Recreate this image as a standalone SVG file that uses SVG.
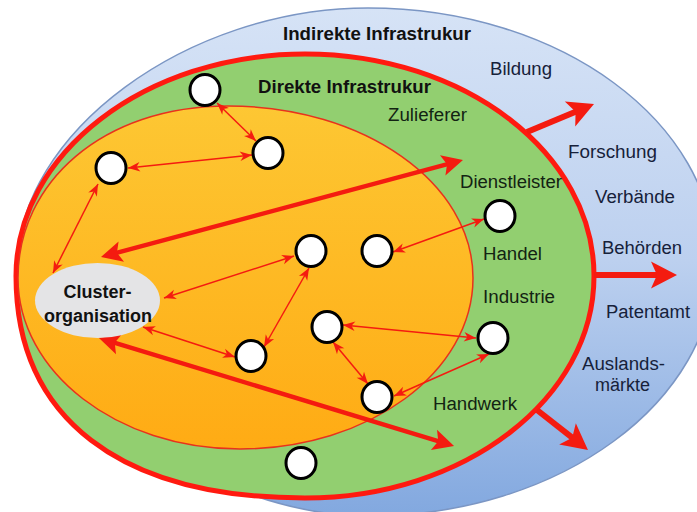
<svg xmlns="http://www.w3.org/2000/svg" width="697" height="512" viewBox="0 0 697 512">
<defs>
<linearGradient id="gBlue" x1="0" y1="0" x2="0" y2="1">
<stop offset="0" stop-color="#d6e3f6"/>
<stop offset="0.5" stop-color="#bcd0ef"/>
<stop offset="1" stop-color="#82a8df"/>
</linearGradient>
<linearGradient id="gOrange" x1="0" y1="0" x2="0" y2="1">
<stop offset="0" stop-color="#fdc733"/>
<stop offset="1" stop-color="#ffab14"/>
</linearGradient>
<marker id="mThin" markerUnits="userSpaceOnUse" orient="auto-start-reverse" refX="0" refY="0" markerWidth="30" markerHeight="30" viewBox="-15 -15 30 30" overflow="visible">
<path d="M0,0 L-12,-4.8 L-8.5,0 L-12,4.8 Z" fill="#f41b10"/>
</marker>
<marker id="mMed" markerUnits="userSpaceOnUse" orient="auto-start-reverse" refX="0" refY="0" markerWidth="60" markerHeight="60" viewBox="-30 -30 60 60" overflow="visible">
<path d="M15,0 L-6,-10.5 L-1.5,0 L-6,10.5 Z" fill="#f41b10"/>
</marker>
<marker id="mBig" markerUnits="userSpaceOnUse" orient="auto" refX="0" refY="0" markerWidth="60" markerHeight="60" viewBox="-30 -30 60 60" overflow="visible">
<path d="M18,0 L-8,-13.5 L-2,0 L-8,13.5 Z" fill="#f41b10"/>
</marker>
</defs>
<style>
.lbl{font-family:"Liberation Sans",Arial,sans-serif;font-size:18px;fill:#16213a}
.lblg{font-family:"Liberation Sans",Arial,sans-serif;font-size:18px;fill:#132313}
.ttl{font-family:"Liberation Sans",Arial,sans-serif;font-size:18px;font-weight:bold;fill:#111}
.thin{stroke:#f41b10;stroke-width:1.5;fill:none;marker-start:url(#mThin);marker-end:url(#mThin)}
.med{stroke:#f41b10;stroke-width:4.5;fill:none;marker-start:url(#mMed);marker-end:url(#mMed)}
.big{stroke:#f41b10;stroke-width:6;fill:none;marker-end:url(#mBig)}
.node{fill:#fff;stroke:#000;stroke-width:3}
</style>

<g id="indirekte-infrastruktur">
<path d="M368,8 C559.5,8 715,122 715,262 C715,402 559.5,516 368,516 C210,516 17,380 17,268 C17,133 187.4,8 368,8 Z" fill="url(#gBlue)" stroke="#7b96c4" stroke-width="1.5"/>
</g>

<g id="direkte-infrastruktur">
<path d="M305,54 C464.5,54 594,153.5 594,276 C594,398.5 464.5,498 305,498 C120,498 16,418 16,276 C16,153.5 145.5,54 305,54 Z" fill="#92cf70" stroke="#ff1a10" stroke-width="5"/>
</g>

<g id="kern">
<path d="M228,106 C364,106 473,183 473,278 C473,372 369,449 240,449 C117,449 18,372 18,278 C18,183 102,106 228,106 Z" fill="url(#gOrange)" stroke="#e8321d" stroke-width="1.5"/>
</g>

<g id="connectors">
<line class="big" x1="527" y1="132" x2="577.4" y2="110.9"/>
<line class="big" x1="594" y1="275" x2="659" y2="275"/>
<line class="big" x1="537" y1="410" x2="573.8" y2="438.9"/>
<line class="med" x1="115.5" y1="253.1" x2="448.5" y2="163.9"/>
<line class="med" x1="113.3" y1="342.4" x2="439.7" y2="441.6"/>
<line class="thin" x1="217" y1="103" x2="256" y2="141"/>
<line class="thin" x1="128" y1="168" x2="252" y2="155"/>
<line class="thin" x1="98" y1="184" x2="53" y2="273"/>
<line class="thin" x1="294" y1="256" x2="164" y2="298"/>
<line class="thin" x1="309" y1="268" x2="264" y2="347"/>
<line class="thin" x1="143" y1="327" x2="235" y2="357"/>
<line class="thin" x1="393" y1="252" x2="484" y2="219"/>
<line class="thin" x1="343" y1="325" x2="476" y2="338"/>
<line class="thin" x1="333" y1="342" x2="368" y2="384"/>
<line class="thin" x1="394" y1="396" x2="489" y2="354"/>
</g>

<g id="node-1"><ellipse class="node" cx="205" cy="90" rx="15" ry="15.5"/></g>
<g id="node-2"><ellipse class="node" cx="268" cy="153" rx="15" ry="15.5"/></g>
<g id="node-3"><ellipse class="node" cx="111" cy="168" rx="15" ry="15.5"/></g>
<g id="node-4"><ellipse class="node" cx="500" cy="216" rx="15" ry="15.5"/></g>
<g id="node-5"><ellipse class="node" cx="311" cy="251" rx="15" ry="15.5"/></g>
<g id="node-6"><ellipse class="node" cx="377" cy="251" rx="15" ry="15.5"/></g>
<g id="node-7"><ellipse class="node" cx="327" cy="327" rx="15" ry="15.5"/></g>
<g id="node-8"><ellipse class="node" cx="251" cy="356" rx="15" ry="15.5"/></g>
<g id="node-9"><ellipse class="node" cx="493" cy="338" rx="15" ry="15.5"/></g>
<g id="node-10"><ellipse class="node" cx="377" cy="397" rx="15" ry="15.5"/></g>
<g id="node-11"><ellipse class="node" cx="301" cy="463" rx="15" ry="15.5"/></g>

<g id="clusterorganisation">
<ellipse cx="97.5" cy="300.5" rx="62.5" ry="37.5" fill="#e4e4e6"/>
<text class="ttl" x="97.5" y="298" text-anchor="middle">Cluster-</text>
<text class="ttl" x="98" y="322" text-anchor="middle">organisation</text>
</g>

<g id="labels">
<text class="ttl" x="283" y="40" textLength="188" lengthAdjust="spacingAndGlyphs">Indirekte Infrastrukur</text>
<text class="ttl" x="258" y="93" textLength="173" lengthAdjust="spacingAndGlyphs">Direkte Infrastrukur</text>
<text class="lbl" x="490" y="75" textLength="62" lengthAdjust="spacingAndGlyphs">Bildung</text>
<text class="lblg" x="388" y="121" textLength="79" lengthAdjust="spacingAndGlyphs">Zulieferer</text>
<text class="lbl" x="568" y="158" textLength="89" lengthAdjust="spacingAndGlyphs">Forschung</text>
<text class="lblg" x="460" y="188" textLength="102" lengthAdjust="spacingAndGlyphs">Dienstleister</text>
<text class="lbl" x="595" y="203" textLength="80" lengthAdjust="spacingAndGlyphs">Verbände</text>
<text class="lbl" x="602" y="254" textLength="80" lengthAdjust="spacingAndGlyphs">Behörden</text>
<text class="lblg" x="483" y="260" textLength="59" lengthAdjust="spacingAndGlyphs">Handel</text>
<text class="lblg" x="483" y="303" textLength="72" lengthAdjust="spacingAndGlyphs">Industrie</text>
<text class="lbl" x="606" y="318" textLength="84" lengthAdjust="spacingAndGlyphs">Patentamt</text>
<text class="lbl" x="582" y="370" textLength="83" lengthAdjust="spacingAndGlyphs">Auslands-</text>
<text class="lbl" x="595" y="391" textLength="55" lengthAdjust="spacingAndGlyphs">märkte</text>
<text class="lblg" x="433" y="410" textLength="84" lengthAdjust="spacingAndGlyphs">Handwerk</text>
</g>
</svg>
